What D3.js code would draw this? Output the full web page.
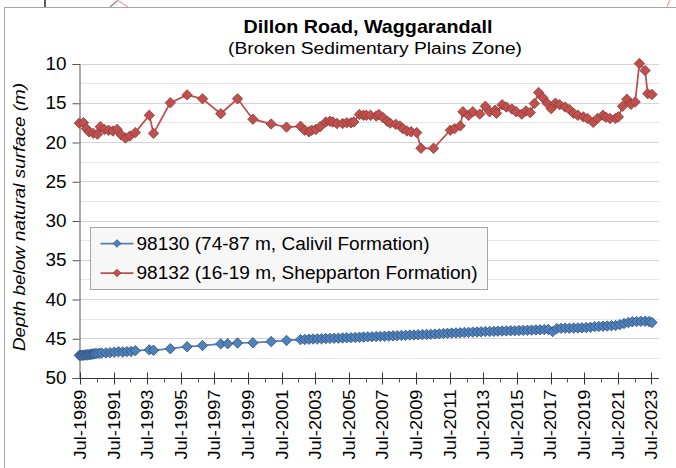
<!DOCTYPE html>
<html>
<head>
<meta charset="utf-8">
<script src="https://cdn.jsdelivr.net/npm/d3@7"></script>
<style>
  body { margin: 0; background: #fff; }
  svg { display: block; font-family: "Liberation Sans", Arial, sans-serif; }
</style>
</head>
<body>
<div id="chart"></div>
<script>
// bore 98132 (16-19 m, Shepparton Formation)
var shepDates = ["1989-06","1989-09","1989-11","1990-01","1990-04","1990-07","1990-09","1990-12","1991-03","1991-06",
  "1991-09","1991-12","1992-03","1992-06","1992-10","1993-08","1993-11","1994-11","1995-11","1996-10",
  "1997-11","1998-11","1999-10","2000-11","2001-10","2002-08","2002-11","2003-02","2003-04","2003-07",
  "2003-10","2004-02","2004-05","2004-07","2004-10","2005-02","2005-05","2005-08","2005-10","2006-02",
  "2006-05","2006-07","2006-10","2007-02","2007-04","2007-07","2007-10","2007-12","2008-04","2008-07",
  "2008-09","2008-12","2009-03","2009-07","2009-10","2010-07","2011-07","2011-10","2012-02","2012-04",
  "2012-08","2012-11","2013-04","2013-08","2013-11","2014-03","2014-04","2014-08","2014-11","2015-03",
  "2015-06","2015-10","2016-01","2016-04","2016-07","2016-10","2017-01","2017-04","2017-07","2017-10",
  "2018-01","2018-05","2018-08","2018-11","2019-02","2019-06","2019-09","2020-01","2020-04","2020-08",
  "2020-10","2021-01","2021-05","2021-07","2021-10","2022-01","2022-04","2022-07","2022-10","2023-02",
  "2023-04","2023-07"];
var shepDepth = [17.6,17.55,18.3,18.7,18.9,19.0,18.05,18.4,18.5,18.6,
  18.4,19.1,19.5,19.25,18.8,16.6,18.9,15.0,14.0,14.5,
  16.4,14.5,17.1,17.7,18.1,18.0,18.5,18.7,18.5,18.4,
  18.05,17.45,17.35,17.45,17.65,17.65,17.55,17.55,17.45,16.5,
  16.6,16.6,16.6,16.7,16.5,16.9,17.35,17.6,17.75,17.95,
  18.3,18.6,18.7,18.8,20.8,20.8,18.5,18.3,17.95,16.15,
  16.6,16.15,16.45,15.45,16.15,15.95,16.35,15.25,15.55,15.8,
  16.15,16.45,16.05,16.25,15.1,13.7,14.35,15.05,15.75,15.05,
  15.25,15.55,15.85,16.35,16.6,16.8,17.0,17.5,17.0,16.6,
  16.85,17.0,17.0,16.8,15.45,14.55,15.2,14.9,10.0,10.9,
  13.85,13.95];

// bore 98130 (74-87 m, Calivil Formation)
var calDates = ["1989-06","1989-07","1989-08","1989-09","1989-10","1989-11","1989-12","1990-01","1990-02","1990-03",
  "1990-04","1990-05","1990-06","1990-08","1990-10","1991-01","1991-04","1991-07","1991-10","1992-01",
  "1992-04","1992-07","1992-10","1993-08","1993-11","1994-11","1995-11","1996-10","1997-11","1998-04",
  "1998-11","1999-10","2000-11","2001-10","2002-08","2002-11","2003-02","2003-05","2003-08","2003-11",
  "2004-02","2004-05","2004-08","2004-11","2005-02","2005-05","2005-08","2005-11","2006-02","2006-05",
  "2006-08","2006-11","2007-02","2007-05","2007-08","2007-11","2008-02","2008-05","2008-08","2008-11",
  "2009-02","2009-05","2009-08","2009-11","2010-02","2010-05","2010-08","2010-11","2011-02","2011-05",
  "2011-08","2011-11","2012-02","2012-05","2012-08","2012-11","2013-02","2013-05","2013-08","2013-11",
  "2014-02","2014-05","2014-08","2014-11","2015-02","2015-05","2015-08","2015-11","2016-02","2016-05",
  "2016-08","2016-11","2017-02","2017-05","2017-08","2017-11","2018-02","2018-05","2018-08","2018-11",
  "2019-02","2019-05","2019-08","2019-11","2020-02","2020-05","2020-08","2020-11","2021-02","2021-05",
  "2021-08","2021-11","2022-02","2022-05","2022-08","2022-11","2023-02","2023-05","2023-07"];
var calDepth = [47.18,47.17,47.16,47.15,47.13,47.11,47.1,47.08,47.06,47.03,
  47.01,46.98,46.95,46.91,46.88,46.86,46.83,46.78,46.72,46.75,
  46.7,46.68,46.58,46.48,46.53,46.33,46.08,45.93,45.72,45.7,
  45.6,45.57,45.42,45.28,45.18,45.15,45.13,45.1,45.08,45.07,
  45.04,45.02,45.0,44.99,44.96,44.94,44.92,44.9,44.87,44.85,
  44.82,44.8,44.78,44.76,44.74,44.72,44.69,44.67,44.64,44.62,
  44.59,44.58,44.56,44.54,44.52,44.5,44.47,44.44,44.4,44.37,
  44.34,44.32,44.3,44.27,44.25,44.22,44.2,44.17,44.15,44.14,
  44.12,44.1,44.08,44.07,44.05,44.04,44.02,44.0,43.98,43.96,
  43.94,43.92,43.9,43.88,44.15,43.77,43.74,43.72,43.72,43.7,
  43.69,43.67,43.64,43.6,43.52,43.5,43.47,43.44,43.4,43.37,
  43.27,43.12,43.0,42.9,42.87,42.85,42.84,42.87,43.0];

var yTicks = [10, 15, 20, 25, 30, 35, 40, 45, 50];
var yMinor = [12.5, 17.5, 22.5, 27.5, 32.5, 37.5, 42.5, 47.5];
var seriesNames = ["98130 (74-87 m, Calivil Formation)", "98132 (16-19 m, Shepparton Formation)"];
var seriesColors = ["#4f81bd", "#c0504d"];
var markerEdges = ["#2c4d75", "#8c3836"];

var width = 676, height = 468;
var parseMonth = d3.timeParse("%Y-%m");
function mid(s) { var d = parseMonth(s); d.setDate(15); return d; }

var calivil = calDates.map(function(d, i) { return { date: mid(d), depth: calDepth[i] }; });
var shepparton = shepDates.map(function(d, i) { return { date: mid(d), depth: shepDepth[i] }; });

var svg = d3.select("#chart").append("svg")
    .attr("width", width)
    .attr("height", height);

// bits of the neighbouring picture peeking above the frame
svg.append("line").attr("x1", 45).attr("y1", 0).attr("x2", 45).attr("y2", 7)
  .style("stroke", "#222").style("stroke-width", 1.5);
svg.append("line").attr("x1", 110).attr("y1", 7).attr("x2", 118).attr("y2", 0)
  .style("stroke", "#888").style("stroke-width", 1.2);
svg.append("line").attr("x1", 117).attr("y1", 0).attr("x2", 128).attr("y2", 7)
  .style("stroke", "#e8a0a0").style("stroke-width", 1.2);
svg.append("path").attr("d", "M670,0 Q668,4 667,7")
  .style("fill", "none").style("stroke", "#e8a0a0").style("stroke-width", 1.2);

svg.append("rect")
  .attr("x", 4.5).attr("y", 7.5)
  .attr("width", 720).attr("height", 500)
  .style("fill", "#fff").style("stroke", "#a6a6a6");

var x = d3.scaleTime()
  .domain([new Date(1989, 6, 1), new Date(2023, 11, 15)])
  .range([80, 659]);
var y = d3.scaleLinear()
  .domain([10, 50])
  .range([63.5, 377.5]);

// title
svg.append("text")
  .attr("x", 368).attr("y", 33)
  .attr("text-anchor", "middle")
  .style("font-size", "19px").style("font-weight", "bold")
  .attr("textLength", 249).attr("lengthAdjust", "spacingAndGlyphs")
  .text("Dillon Road, Waggarandall");
svg.append("text")
  .attr("x", 375).attr("y", 54)
  .attr("text-anchor", "middle")
  .style("font-size", "16px")
  .attr("textLength", 294).attr("lengthAdjust", "spacingAndGlyphs")
  .text("(Broken Sedimentary Plains Zone)");

// grid
svg.append("g").selectAll("line.minor")
  .data(yMinor).enter().append("line")
    .attr("x1", x.range()[0]).attr("x2", x.range()[1])
    .attr("y1", function(d) { return Math.round(y(d)) + 0.5; })
    .attr("y2", function(d) { return Math.round(y(d)) + 0.5; })
    .style("stroke", "#e6e6e6");
svg.append("g").selectAll("line.major")
  .data(yTicks.slice(0, -1)).enter().append("line")
    .attr("x1", x.range()[0]).attr("x2", x.range()[1])
    .attr("y1", function(d) { return Math.round(y(d)) + 0.5; })
    .attr("y2", function(d) { return Math.round(y(d)) + 0.5; })
    .style("stroke", "#d4d4d4");

// y axis
var yAxis = svg.append("g")
  .attr("transform", "translate(" + (x.range()[0] - 0.5) + ",0.5)")
  .call(d3.axisLeft(y).tickValues(yTicks).tickSize(7).tickPadding(6));
yAxis.select(".domain").style("stroke", "#555");
yAxis.selectAll(".tick line").style("stroke", "#555");
yAxis.selectAll("text")
  .style("font-size", "17.5px").style("fill", "#000")
  .attr("textLength", 21).attr("lengthAdjust", "spacingAndGlyphs");

// x axis: major ticks on odd Julys, minor on even Julys
var majorDates = d3.range(1989, 2024, 2).map(function(yr) { return new Date(yr, 6, 1); });
var minorDates = d3.range(1990, 2024, 2).map(function(yr) { return new Date(yr, 6, 1); });
var axisY = Math.round(y(50)) + 0.5;

var xAxis = svg.append("g").attr("transform", "translate(0," + axisY + ")");
xAxis.append("line")
  .attr("x1", x.range()[0]).attr("x2", x.range()[1])
  .style("stroke", "#333");
xAxis.selectAll("line.minor")
  .data(minorDates).enter().append("line")
    .attr("x1", function(d) { return Math.round(x(d)) + 0.5; })
    .attr("x2", function(d) { return Math.round(x(d)) + 0.5; })
    .attr("y1", 0).attr("y2", 4)
    .style("stroke", "#555");
xAxis.selectAll("line.major")
  .data(majorDates).enter().append("line")
    .attr("x1", function(d) { return Math.round(x(d)) + 0.5; })
    .attr("x2", function(d) { return Math.round(x(d)) + 0.5; })
    .attr("y1", -6).attr("y2", 6)
    .style("stroke", "#333");
xAxis.selectAll("text")
  .data(majorDates).enter().append("text")
    .attr("transform", function(d) { return "translate(" + x(d) + ",11) rotate(-90)"; })
    .attr("dy", "0.36em")
    .attr("text-anchor", "end")
    .style("font-size", "16.5px")
    .attr("textLength", 70).attr("lengthAdjust", "spacingAndGlyphs")
    .text(d3.timeFormat("Jul-%Y"));

// y axis title
svg.append("text")
  .attr("transform", "translate(25,217) rotate(-90)")
  .attr("text-anchor", "middle")
  .style("font-size", "16.5px").style("font-style", "italic")
  .attr("textLength", 268).attr("lengthAdjust", "spacingAndGlyphs")
  .text("Depth below natural surface (m)");

// series
var line = d3.line()
  .x(function(d) { return x(d.date); })
  .y(function(d) { return y(d.depth); });

function diamond(r) { return "M0," + (-r) + "L" + r + ",0L0," + r + "L" + (-r) + ",0Z"; }

[calivil, shepparton].forEach(function(data, k) {
  svg.append("path")
    .datum(data)
    .attr("d", line)
    .style("fill", "none")
    .style("stroke", seriesColors[k])
    .style("stroke-width", 1.75);
  svg.append("g").selectAll("path")
    .data(data).enter().append("path")
      .attr("transform", function(d) { return "translate(" + x(d.date) + "," + y(d.depth) + ")"; })
      .attr("d", diamond(5.2))
      .style("fill", seriesColors[k])
      .style("stroke", markerEdges[k])
      .style("stroke-width", 0.8);
});

// legend
var legend = svg.append("g").attr("transform", "translate(90.5,227.5)");
legend.append("rect")
  .attr("width", 397).attr("height", 62)
  .style("fill", "#f7f7f7").style("stroke", "#a6a6a6");
var item = legend.selectAll("g.item")
  .data(seriesNames).enter().append("g")
    .attr("transform", function(d, i) { return "translate(0," + (16 + i * 29.5) + ")"; });
item.append("line")
  .attr("x1", 10).attr("x2", 43)
  .style("stroke", function(d, i) { return seriesColors[i]; })
  .style("stroke-width", 1.75);
item.append("path")
  .attr("transform", "translate(26.5,0)")
  .attr("d", diamond(3.8))
  .style("fill", function(d, i) { return seriesColors[i]; })
  .style("stroke", function(d, i) { return markerEdges[i]; })
  .style("stroke-width", 0.8);
item.append("text")
  .attr("x", 46).attr("dy", "0.36em")
  .style("font-size", "17.5px")
  .attr("textLength", function(d, i) { return i ? 341 : 293; })
  .attr("lengthAdjust", "spacingAndGlyphs")
  .text(function(d) { return d; });
</script>
</body>
</html>
